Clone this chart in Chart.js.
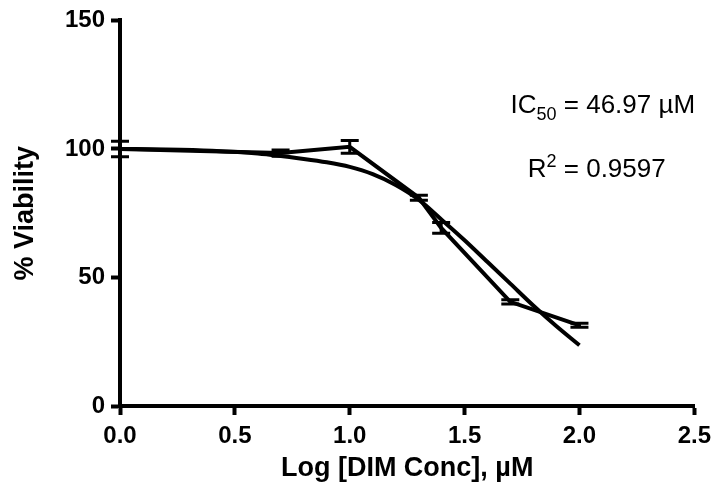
<!DOCTYPE html>
<html>
<head>
<meta charset="utf-8">
<script src="https://cdn.jsdelivr.net/npm/chart.js@4"></script>
<style>
  html, body { margin: 0; padding: 0; background: #fff; }
  #wrap { width: 718px; height: 498px; position: relative; }
</style>
</head>
<body>
<div id="wrap"><canvas id="chart"></canvas></div>
<script>
// ================= DATA =================
const logConc = [0, 0.699, 1.0, 1.301, 1.398, 1.699, 2.0];
const viability = [100, 98.4, 100.8, 81.0, 69.3, 40.5, 31.4];
const viabilityErr = [3, 1.2, 2.5, 1, 2.1, 0.8, 0.8];

// fitted curve
const fitX = [0, 0.2, 0.4, 0.6, 0.8, 0.9, 1.0, 1.1, 1.2, 1.3, 1.4, 1.5, 1.6, 1.7, 1.8, 1.9, 2.0];
const fitY = [100, 99.8, 99.3, 98.2, 96.1, 94.8, 93.0, 90.2, 86.0, 80.3, 72.5, 64.5, 56, 47.5, 39, 31, 23.6];

const xTicks = [0, 0.5, 1.0, 1.5, 2.0, 2.5];
const yTicks = [0, 50, 100, 150];

const ic50Value = "46.97";
const r2Value = "0.9597";

const FONT = "'Liberation Sans', Arial, sans-serif";

// ================= PLUGINS =================
const errorBars = {
  id: "errorBars",
  afterDatasetsDraw(chart) {
    const { ctx, scales: { x, y } } = chart;
    const cap = 9;
    ctx.save();
    ctx.strokeStyle = "#000";
    ctx.lineWidth = 3;
    logConc.forEach((c, i) => {
      const px = x.getPixelForValue(c);
      const top = y.getPixelForValue(viability[i] + viabilityErr[i]);
      const bot = y.getPixelForValue(viability[i] - viabilityErr[i]);
      ctx.beginPath();
      ctx.moveTo(px, top); ctx.lineTo(px, bot);
      ctx.moveTo(px - cap, top); ctx.lineTo(px + cap, top);
      ctx.moveTo(px - cap, bot); ctx.lineTo(px + cap, bot);
      ctx.stroke();
    });
    ctx.restore();
  }
};

function drawParts(ctx, parts, px, py) {
  parts.forEach(p => {
    ctx.font = p.size + "px " + FONT;
    ctx.fillText(p.text, px, py + (p.shift || 0));
    px += ctx.measureText(p.text).width;
  });
}

const fitLabels = {
  id: "fitLabels",
  afterDraw(chart) {
    const { ctx, scales: { x, y } } = chart;
    ctx.save();
    ctx.fillStyle = "#000";
    ctx.textBaseline = "alphabetic";
    ctx.textAlign = "left";
    drawParts(ctx, [
      { text: "IC", size: 26 },
      { text: "50", size: 18, shift: 7 },
      { text: " = " + ic50Value + " \u00B5M", size: 26 }
    ], x.getPixelForValue(1.70), y.getPixelForValue(114));
    drawParts(ctx, [
      { text: "R", size: 26 },
      { text: "2", size: 18, shift: -10 },
      { text: " = " + r2Value, size: 26 }
    ], x.getPixelForValue(1.775), y.getPixelForValue(89));
    ctx.restore();
  }
};

// ================= CHART =================
const axisGrid = {
  drawOnChartArea: false,
  drawTicks: true,
  tickLength: 9,
  tickWidth: 4,
  tickColor: "#000",
  color: "#000"
};
const axisBorder = { display: true, color: "#000", width: 4 };
const tickFont = { family: FONT, size: 24, weight: "bold" };
const titleFont = { family: FONT, size: 27, weight: "bold" };

new Chart(document.getElementById("chart"), {
  type: "scatter",
  data: {
    datasets: [
      {
        label: "Mean",
        data: logConc.map((c, i) => ({ x: c, y: viability[i] })),
        showLine: true,
        borderColor: "#000",
        borderWidth: 4,
        pointRadius: 0,
        clip: false
      },
      {
        label: "Fit",
        data: fitX.map((c, i) => ({ x: c, y: fitY[i] })),
        showLine: true,
        borderColor: "#000",
        borderWidth: 4,
        pointRadius: 0,
        cubicInterpolationMode: "monotone",
        clip: false
      }
    ]
  },
  options: {
    responsive: true,
    maintainAspectRatio: false,
    animation: false,
    layout: { padding: { top: 20, right: 21, left: 0, bottom: 0 } },
    plugins: { legend: { display: false }, tooltip: { enabled: false } },
    scales: {
      x: {
        type: "linear",
        min: 0,
        max: 2.5,
        afterBuildTicks: s => { s.ticks = xTicks.map(v => ({ value: v })); },
        afterFit: s => { s.height = 92; },
        grid: axisGrid,
        border: axisBorder,
        ticks: {
          color: "#000",
          font: tickFont,
          padding: 7,
          maxRotation: 0,
          autoSkip: false,
          callback: v => Number(v).toFixed(1)
        },
        title: {
          display: true,
          text: "Log [DIM Conc], \u00B5M",
          color: "#000",
          font: titleFont,
          padding: { top: 0, bottom: 13 }
        }
      },
      y: {
        type: "linear",
        min: 0,
        max: 150,
        afterBuildTicks: s => { s.ticks = yTicks.map(v => ({ value: v })); },
        afterFit: s => { s.width = 120; },
        grid: axisGrid,
        border: axisBorder,
        ticks: { color: "#000", font: tickFont, padding: 6 },
        title: {
          display: true,
          text: "% Viability",
          color: "#000",
          font: titleFont,
          padding: { top: 9, bottom: 0 }
        }
      }
    }
  },
  plugins: [errorBars, fitLabels]
});
</script>
</body>
</html>
